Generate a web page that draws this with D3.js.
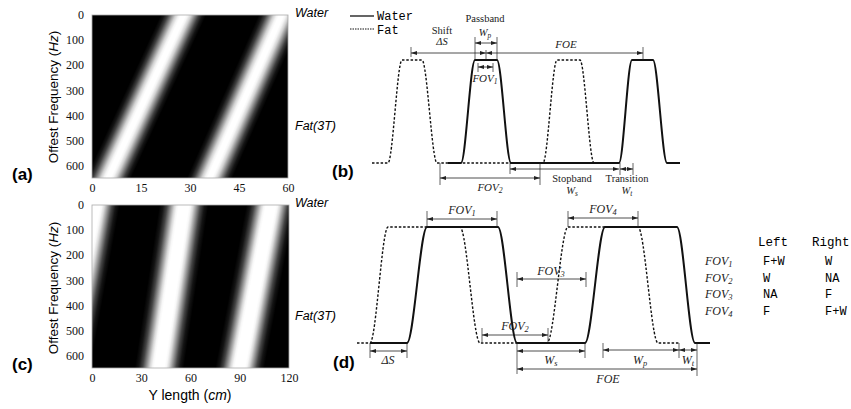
<!DOCTYPE html>
<html>
<head>
<meta charset="utf-8">
<script src="https://cdn.jsdelivr.net/npm/d3@7"></script>
<style>
body { margin: 0; background: #fff; }
svg { display: block; }
.serif { font-family: "Liberation Serif", "Times New Roman", serif; }
.mono { font-family: "Liberation Mono", monospace; }
.sans { font-family: "Liberation Sans", Arial, sans-serif; }
</style>
</head>
<body>
<svg id="fig" width="851" height="409"></svg>
<script>
// ---- heat maps (a) and (c) ----
var freqTicks = [0, 100, 200, 300, 400, 500, 600];
var lenTicksA = [0, 15, 30, 45, 60];
var lenTicksC = [0, 30, 60, 90, 120];
var bandTopA = [28, 58];        // band centre at 0 Hz (cm)
var bandBotA = [5, 36];         // band centre at 650 Hz (cm)
var bandTopC = [2, 56, 109];
var bandBotC = [-16, 41, 90];
// cross-band brightness: [position across band, white level]
var profileA = [[0, 0], [0.08, 0.08], [0.16, 0.25], [0.25, 0.55], [0.33, 0.82], [0.4, 0.96], [0.45, 1], [0.55, 1], [0.6, 0.96], [0.67, 0.82], [0.75, 0.55], [0.84, 0.25], [0.92, 0.08], [1, 0]];
var profileC = [[0, 0], [0.08, 0.08], [0.16, 0.27], [0.24, 0.58], [0.31, 0.85], [0.36, 0.97], [0.4, 1], [0.6, 1], [0.64, 0.97], [0.69, 0.85], [0.76, 0.58], [0.84, 0.27], [0.92, 0.08], [1, 0]];

// ---- profiles (b) and (d): [rise start, top start, top end, fall end] ----
var waterB = { start: 76, end: 308, pulses: [[89, 103, 125, 139], [247, 260, 281, 295]] };
var fatB = { start: 0, end: 235, pulses: [[16, 30, 50, 65], [171, 185, 208, 222]] };
var waterD = { start: 13, end: 353, pulses: [[50, 70, 141, 160], [228, 248, 320, 338]] };
var fatD = { start: 0, end: 323, pulses: [[13, 31, 103, 123], [190, 211, 281, 301]] };

// dimension arrows: [from, to]
var dimsB = { dS: [39, 114], FOE: [114, 271], Wp: [103, 125], FOV1: [106, 121], FOV2: [68, 168], Ws: [138, 247], Wt: [248, 261] };
var dimsD = { FOV1: [70, 140], FOV4: [211, 281], FOV3: [160, 229], FOV2: [125, 191], dS: [13, 50], Ws: [160, 228], Wp: [246, 322], Wt: [322, 340], FOE: [160, 340] };

var tableRows = ["1", "2", "3", "4"];
var tableLeft = ["F+W", "W", "NA", "F"];
var tableRight = ["W", "NA", "F", "F+W"];

var svg = d3.select("#fig");
var defs = svg.append("defs");

defs.append("marker")
    .attr("id", "arr")
    .attr("viewBox", "0 0 6 4")
    .attr("markerUnits", "userSpaceOnUse")
    .attr("markerWidth", 6)
    .attr("markerHeight", 4)
    .attr("refX", 6)
    .attr("refY", 2)
    .attr("orient", "auto-start-reverse")
  .append("path")
    .attr("d", "M0,0L6,2L0,4Z")
    .attr("fill", "#222");

function heatmap(id, x, y, tops, bots, halfW, profile, ticksX, labelY) {
  var g = svg.append("g");
  var x0 = x.range()[0], x1 = x.range()[1], y0 = y.range()[0], y1 = y.range()[1];
  defs.append("clipPath").attr("id", "clip" + id)
    .append("rect").attr("x", x0).attr("y", y0).attr("width", x1 - x0).attr("height", y1 - y0);

  g.append("rect").attr("x", x0).attr("y", y0).attr("width", x1 - x0).attr("height", y1 - y0).attr("fill", "#000");

  var bands = g.append("g").attr("clip-path", "url(#clip" + id + ")");
  var hw = x(halfW) - x(0);
  tops.forEach(function (t, i) {
    var p0 = [x(t), y(0)], p1 = [x(bots[i]), y(650)];
    var dx = p1[0] - p0[0], dy = p1[1] - p0[1], len = Math.sqrt(dx * dx + dy * dy);
    var pw = hw * dy / len, nx = dy / len, ny = -dx / len;
    var mx = (p0[0] + p1[0]) / 2, my = (p0[1] + p1[1]) / 2;
    var gid = "band" + id + i;
    var grad = defs.append("linearGradient").attr("id", gid)
        .attr("gradientUnits", "userSpaceOnUse")
        .attr("x1", mx - nx * pw).attr("y1", my - ny * pw)
        .attr("x2", mx + nx * pw).attr("y2", my + ny * pw);
    grad.selectAll("stop").data(profile).enter().append("stop")
        .attr("offset", function (d) { return d[0]; })
        .attr("stop-color", "#fff")
        .attr("stop-opacity", function (d) { return d[1]; });
    bands.append("polygon")
        .attr("points", [[p0[0] - hw - 2, p0[1] - 2], [p0[0] + hw + 2, p0[1] - 2], [p1[0] + hw + 2, p1[1] + 2], [p1[0] - hw - 2, p1[1] + 2]].join(" "))
        .attr("fill", "url(#" + gid + ")");
  });

  g.append("rect").attr("x", x0).attr("y", y0).attr("width", x1 - x0).attr("height", y1 - y0)
      .attr("fill", "none").attr("stroke", "#aaa").attr("stroke-width", 0.8);

  g.append("g").attr("transform", "translate(" + x0 + ",0)")
      .call(d3.axisLeft(y).tickValues(freqTicks).tickSize(0).tickPadding(8))
      .call(function (a) {
        a.select(".domain").remove();
        a.selectAll("text").attr("font-family", "Liberation Serif, Times New Roman, serif").attr("font-size", 12).attr("fill", "#111");
      });
  g.append("g").attr("transform", "translate(0," + (y1 + 1) + ")")
      .call(d3.axisBottom(x).tickValues(ticksX).tickSize(0).tickPadding(4))
      .call(function (a) {
        a.select(".domain").remove();
        a.selectAll("text").attr("font-family", "Liberation Serif, Times New Roman, serif").attr("font-size", 12).attr("fill", "#111");
      });

  var t = g.append("text").attr("class", "sans").attr("font-size", 13.5)
      .attr("text-anchor", "middle")
      .attr("transform", "translate(58," + labelY + ") rotate(-90)");
  t.append("tspan").text("Offest Frequency (");
  t.append("tspan").attr("font-style", "italic").text("Hz");
  t.append("tspan").text(")");

  g.append("text").attr("class", "sans").attr("font-size", 12.5).attr("font-style", "italic")
      .attr("x", 295).attr("y", y0 + 2).text("Water");
  g.append("text").attr("class", "sans").attr("font-size", 12.5).attr("font-style", "italic")
      .attr("x", 295).attr("y", y0 + 115).text("Fat(3T)");
}

heatmap("a", d3.scaleLinear().domain([0, 60]).range([92, 288]), d3.scaleLinear().domain([0, 650]).range([15, 178]),
    bandTopA, bandBotA, 7, profileA, lenTicksA, 97);
heatmap("c", d3.scaleLinear().domain([0, 120]).range([92, 289]), d3.scaleLinear().domain([0, 650]).range([205, 368]),
    bandTopC, bandBotC, 15, profileC, lenTicksC, 288);

var xl = svg.append("text").attr("class", "sans").attr("font-size", 14)
    .attr("text-anchor", "middle").attr("x", 190).attr("y", 400);
xl.append("tspan").text("Y length (");
xl.append("tspan").attr("font-style", "italic").text("cm");
xl.append("tspan").text(")");

// panel letters
[["(a)", 12, 180], ["(b)", 332, 177], ["(c)", 12, 370], ["(d)", 333, 368]].forEach(function (p) {
  svg.append("text").attr("class", "sans").attr("font-weight", "bold").attr("font-size", 17)
      .attr("x", p[1]).attr("y", p[2]).text(p[0]);
});

// ---- profile panels ----
function profilePoints(s) {
  var pts = [[s.start, 0]];
  s.pulses.forEach(function (p) {
    pts.push([p[0], 0], [p[1], 1], [p[2], 1], [p[3], 0]);
  });
  pts.push([s.end, 0]);
  return pts.filter(function (d, i, a) { return i === 0 || d[0] > a[i - 1][0]; });
}

function drawProfile(g, x, y, s, dashed) {
  var line = d3.line().x(function (d) { return x(d[0]); }).y(function (d) { return y(d[1]); })
      .curve(d3.curveMonotoneX);
  g.append("path").attr("d", line(profilePoints(s)))
      .attr("fill", "none").attr("stroke", "#111")
      .attr("stroke-width", dashed ? 1.4 : 2)
      .attr("stroke-dasharray", dashed ? "2.5,1.8" : null);
}

function dim(g, x, d, yy) {
  g.append("line").attr("x1", x(d[0])).attr("x2", x(d[1])).attr("y1", yy).attr("y2", yy)
      .attr("stroke", "#222").attr("stroke-width", 0.8)
      .attr("marker-start", "url(#arr)")
      .attr("marker-end", "url(#arr)");
}

function tick(g, x, v, ya, yb) {
  g.append("line").attr("x1", x(v)).attr("x2", x(v)).attr("y1", ya).attr("y2", yb)
      .attr("stroke", "#222").attr("stroke-width", 0.7);
}

function label(g, xx, yy, main, sub, size, italic) {
  var t = g.append("text").attr("class", "serif").attr("font-size", size)
      .attr("text-anchor", "middle").attr("x", xx).attr("y", yy).attr("fill", "#222")
      .attr("font-style", italic ? "italic" : null);
  t.append("tspan").text(main);
  if (sub) t.append("tspan").attr("font-size", size * 0.7).attr("dy", size * 0.18).text(sub);
}

// (b)
var xB = d3.scaleLinear().domain([0, 310]).range([372, 682]);
var yB = d3.scaleLinear().domain([0, 1]).range([163, 60]);
var gb = svg.append("g");
drawProfile(gb, xB, yB, fatB, true);
drawProfile(gb, xB, yB, waterB, false);

gb.append("line").attr("x1", 350).attr("x2", 374).attr("y1", 16).attr("y2", 16).attr("stroke", "#111").attr("stroke-width", 1.3);
gb.append("line").attr("x1", 350).attr("x2", 374).attr("y1", 29).attr("y2", 29).attr("stroke", "#111").attr("stroke-width", 1).attr("stroke-dasharray", "1.5,1");
gb.append("text").attr("class", "mono").attr("font-size", 12).attr("x", 377).attr("y", 20).text("Water");
gb.append("text").attr("class", "mono").attr("font-size", 12).attr("x", 377).attr("y", 34).text("Fat");

dim(gb, xB, dimsB.dS, 53);
dim(gb, xB, dimsB.FOE, 53);
dim(gb, xB, dimsB.Wp, 43);
dim(gb, xB, dimsB.FOV1, 67);
dim(gb, xB, dimsB.FOV2, 178);
dim(gb, xB, dimsB.Ws, 169);
dim(gb, xB, dimsB.Wt, 169);
tick(gb, xB, dimsB.dS[0], 47, 57);
tick(gb, xB, dimsB.dS[1], 50, 60);
tick(gb, xB, dimsB.FOE[1], 47, 60);
tick(gb, xB, dimsB.Wp[0], 37, 60);
tick(gb, xB, dimsB.Wp[1], 37, 60);
tick(gb, xB, dimsB.FOV1[0], 63, 72);
tick(gb, xB, dimsB.FOV1[1], 63, 72);
tick(gb, xB, dimsB.FOV2[0], 163, 185);
tick(gb, xB, dimsB.FOV2[1], 163, 185);
tick(gb, xB, dimsB.Ws[0], 163, 174);
tick(gb, xB, dimsB.Wt[0], 163, 175);
tick(gb, xB, dimsB.Wt[1], 163, 175);

label(gb, xB(70), 34, "Shift", null, 10.5, false);
label(gb, xB(70), 45, "\u0394S", null, 10.5, true);
label(gb, xB(113), 22, "Passband", null, 10.5, false);
label(gb, xB(113), 36, "W", "p", 10.5, true);
label(gb, xB(194), 48, "FOE", null, 11, true);
label(gb, xB(113), 82, "FOV", "1", 11, true);
label(gb, xB(118), 191, "FOV", "2", 11, true);
label(gb, xB(200), 182, "Stopband", null, 10.5, false);
label(gb, xB(200), 194, "W", "s", 10.5, true);
label(gb, xB(255), 182, "Transition", null, 10.5, false);
label(gb, xB(255), 194, "W", "t", 10.5, true);

// (d)
var xD = d3.scaleLinear().domain([0, 353]).range([357, 710]);
var yD = d3.scaleLinear().domain([0, 1]).range([343, 227]);
var gd = svg.append("g");
drawProfile(gd, xD, yD, fatD, true);
drawProfile(gd, xD, yD, waterD, false);

dim(gd, xD, dimsD.FOV1, 219);
dim(gd, xD, dimsD.FOV4, 218);
dim(gd, xD, dimsD.FOV3, 279);
dim(gd, xD, dimsD.FOV2, 335);
dim(gd, xD, dimsD.dS, 351);
dim(gd, xD, dimsD.Ws, 351);
dim(gd, xD, dimsD.Wp, 350);
dim(gd, xD, dimsD.Wt, 350);
dim(gd, xD, dimsD.FOE, 369);
tick(gd, xD, dimsD.FOV1[0], 211, 227);
tick(gd, xD, dimsD.FOV1[1], 211, 227);
tick(gd, xD, dimsD.FOV4[0], 211, 227);
tick(gd, xD, dimsD.FOV4[1], 211, 227);
tick(gd, xD, dimsD.FOV3[0], 272, 287);
tick(gd, xD, dimsD.FOV3[1], 272, 287);
tick(gd, xD, dimsD.FOV2[0], 328, 342);
tick(gd, xD, dimsD.FOV2[1], 328, 342);
tick(gd, xD, dimsD.dS[0], 343, 358);
tick(gd, xD, dimsD.dS[1], 343, 358);
tick(gd, xD, dimsD.Ws[0], 343, 374);
tick(gd, xD, dimsD.Ws[1], 343, 358);
tick(gd, xD, dimsD.Wp[0], 343, 358);
tick(gd, xD, dimsD.Wp[1], 343, 358);
tick(gd, xD, dimsD.FOE[1], 343, 376);

label(gd, xD(105), 214, "FOV", "1", 12, true);
label(gd, xD(246), 213, "FOV", "4", 12, true);
label(gd, xD(194), 275, "FOV", "3", 12, true);
label(gd, xD(158), 330, "FOV", "2", 12, true);
label(gd, xD(31), 364, "\u0394S", null, 12, true);
label(gd, xD(194), 364, "W", "s", 12, true);
label(gd, xD(283), 364, "W", "p", 12, true);
label(gd, xD(331), 364, "W", "t", 12, true);
label(gd, xD(251), 383, "FOE", null, 12, true);

// table
var gt = svg.append("g");
gt.append("text").attr("class", "mono").attr("font-size", 12.5).attr("x", 758).attr("y", 246).text("Left");
gt.append("text").attr("class", "mono").attr("font-size", 12.5).attr("x", 812).attr("y", 246).text("Right");
tableRows.forEach(function (r, i) {
  var yy = 265 + i * 16.7;
  var t = gt.append("text").attr("class", "serif").attr("font-size", 12).attr("font-style", "italic")
      .attr("x", 705).attr("y", yy).attr("fill", "#222");
  t.append("tspan").text("FOV");
  t.append("tspan").attr("font-size", 8.5).attr("dy", 2).text(r);
  gt.append("text").attr("class", "mono").attr("font-size", 12).attr("x", 763).attr("y", yy).text(tableLeft[i]);
  gt.append("text").attr("class", "mono").attr("font-size", 12).attr("x", 825).attr("y", yy).text(tableRight[i]);
});
</script>
</body>
</html>
